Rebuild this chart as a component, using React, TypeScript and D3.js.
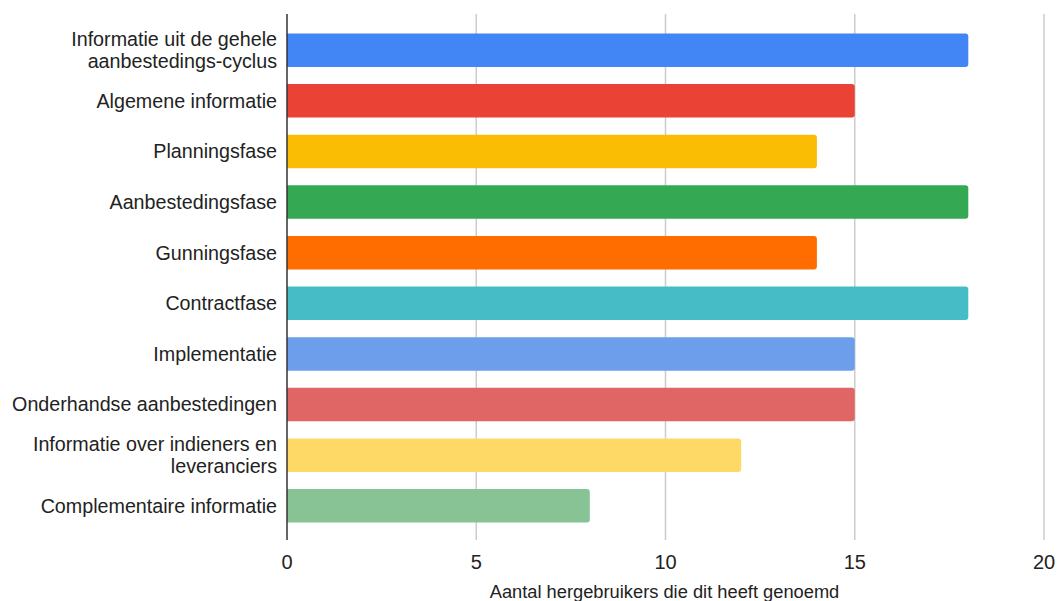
import React from "react";
import * as d3 from "d3";

const categories: string[][] = [
  ["Informatie uit de gehele", "aanbestedings-cyclus"],
  ["Algemene informatie"],
  ["Planningsfase"],
  ["Aanbestedingsfase"],
  ["Gunningsfase"],
  ["Contractfase"],
  ["Implementatie"],
  ["Onderhandse aanbestedingen"],
  ["Informatie over indieners en", "leveranciers"],
  ["Complementaire informatie"],
];
const values: number[] = [18, 15, 14, 18, 14, 18, 15, 15, 12, 8];
const colors: string[] = [
  "#4285f4", "#ea4335", "#fbbc04", "#34a853", "#ff6d01",
  "#46bdc6", "#6d9eeb", "#e06666", "#ffd966", "#87c394",
];
const xTicks: number[] = [0, 5, 10, 15, 20];
const xTitle = "Aantal hergebruikers die dit heeft genoemd";

const W = 1060;
const H = 601;
const left = 287;
const right = 1044;
const top = 14;
const bottom = 540;

export default function App() {
  const x = d3.scaleLinear().domain([0, 20]).range([left, right]);
  const y = d3
    .scaleBand<number>()
    .domain(d3.range(categories.length))
    .range([top + 1, bottom + 1])
    .paddingInner(0.34)
    .paddingOuter(0.365);
  const bw = y.bandwidth();
  const r = 3;
  const font = "Liberation Sans, Arial, sans-serif";

  const barPath = (v: number, y0: number) => {
    const x0 = x(0);
    const x1 = x(v);
    return `M${x0},${y0}H${x1 - r}Q${x1},${y0} ${x1},${y0 + r}V${y0 + bw - r}Q${x1},${y0 + bw} ${x1 - r},${y0 + bw}H${x0}Z`;
  };

  return (
    <svg
      width={W}
      height={H}
      style={{ position: "absolute", left: 0, top: 0, background: "#fff" }}
      fontFamily={font}
    >
      {xTicks.slice(1).map((t) => (
        <line key={t} x1={x(t)} x2={x(t)} y1={top} y2={bottom} stroke="#cccccc" strokeWidth={1.5} />
      ))}
      {values.map((v, i) => (
        <path key={i} d={barPath(v, y(i)!)} fill={colors[i]} />
      ))}
      <line x1={x(0)} x2={x(0)} y1={top} y2={bottom} stroke="#333333" strokeWidth={1.5} />
      {categories.map((lines, i) => {
        const cy = y(i)! + bw / 2;
        const lh = 21.3;
        const startY = cy - ((lines.length - 1) * lh) / 2;
        return (
          <text key={i} textAnchor="end" fontSize={19.7} fill="#222">
            {lines.map((l, j) => (
              <tspan key={j} x={left - 10} y={startY + j * lh} dy="0.35em">
                {l}
              </tspan>
            ))}
          </text>
        );
      })}
      {xTicks.map((t) => (
        <text key={t} x={x(t)} y={569} textAnchor="middle" fontSize={20} fill="#222">
          {t}
        </text>
      ))}
      <text x={(left + right) / 2 - 1} y={598} textAnchor="middle" fontSize={18.3} fill="#222">
        {xTitle}
      </text>
    </svg>
  );
}
